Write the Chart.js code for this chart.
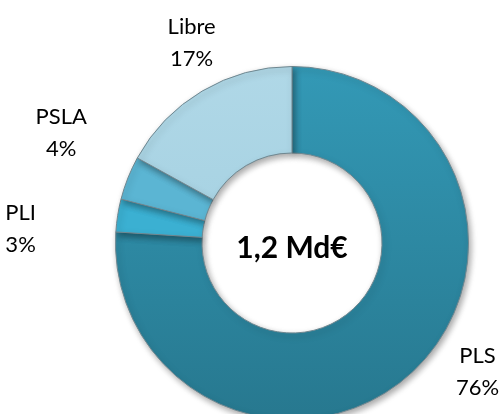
<!DOCTYPE html>
<html>
<head>
<meta charset="utf-8">
<script src="https://cdn.jsdelivr.net/npm/chart.js@4.4.0/dist/chart.umd.min.js"></script>
<style>
  html, body { margin: 0; padding: 0; background: #fff; overflow: hidden; }
  #wrap { width: 503px; height: 420px; position: relative; }
</style>
</head>
<body>
<div id="wrap"><canvas id="donut"></canvas></div>
<script>
// donnees
const labels = ['PLS', 'PLI', 'PSLA', 'Libre'];
const shares = [76, 3, 4, 17];
const centerText = '1,2 Md€';

// styles
const flatColors = ['#2d8ca7', '#3bb0d2', '#5bb5d3', '#a9d3e3'];
// placement des etiquettes : facteur de rayon + decalage angulaire (degres)
const labelPlace = [
  { r: 1.28, da: -12 },
  { r: 1.54, da: -6 },
  { r: 1.45, da: 4 },
  { r: 1.27, da: 4 }
];

function sliceColor(ctx) {
  const i = ctx.dataIndex;
  const area = ctx.chart.chartArea;
  if (!area) return flatColors[i];
  const c = ctx.chart.ctx;
  const g = c.createLinearGradient(0, area.top, 0, area.bottom);
  if (i === 0) {
    g.addColorStop(0, '#3399b6');
    g.addColorStop(1, '#27788f');
  } else if (i === 3) {
    g.addColorStop(0, '#b0d8e7');
    g.addColorStop(1, '#9ccbdd');
  } else {
    return flatColors[i];
  }
  return g;
}

const shadowPlugin = {
  id: 'shadow',
  beforeDatasetsDraw(chart) {
    const c = chart.ctx;
    c.save();
    c.shadowColor = 'rgba(0,0,0,0.35)';
    c.shadowBlur = 6;
    c.shadowOffsetX = 2;
    c.shadowOffsetY = 3;
  },
  afterDatasetsDraw(chart) {
    chart.ctx.restore();
  }
};

const labelPlugin = {
  id: 'sliceLabels',
  afterDraw(chart) {
    const c = chart.ctx;
    const meta = chart.getDatasetMeta(0);
    c.save();
    c.fillStyle = '#000';
    c.textAlign = 'center';
    c.textBaseline = 'middle';
    meta.data.forEach((arc, i) => {
      const p = arc.getProps(['x', 'y', 'startAngle', 'endAngle', 'outerRadius'], true);
      const mid = (p.startAngle + p.endAngle) / 2 + labelPlace[i].da * Math.PI / 180;
      const r = p.outerRadius * labelPlace[i].r;
      const x = p.x + Math.cos(mid) * r;
      const y = p.y + Math.sin(mid) * r;
      c.font = '22px Lato, "Open Sans", sans-serif';
      c.fillText(labels[i], x, y - 16);
      c.fillText(shares[i] + '%', x, y + 16);
    });
    // texte central
    const a = meta.data[0];
    c.font = 'bold 30px Lato, "Open Sans", sans-serif';
    c.fillText(centerText, a.x, a.y + 5);
    c.restore();
  }
};

new Chart(document.getElementById('donut'), {
  type: 'doughnut',
  data: {
    labels,
    datasets: [{
      data: shares,
      backgroundColor: sliceColor,
      borderColor: '#6f8790',
      borderWidth: 1
    }]
  },
  options: {
    responsive: true,
    maintainAspectRatio: false,
    animation: false,
    cutout: '51%',
    rotation: 0,
    layout: { padding: { left: 115, right: 34, top: 66, bottom: 0 } },
    plugins: {
      legend: { display: false },
      tooltip: { enabled: false }
    }
  },
  plugins: [shadowPlugin, labelPlugin]
});
</script>
</body>
</html>
